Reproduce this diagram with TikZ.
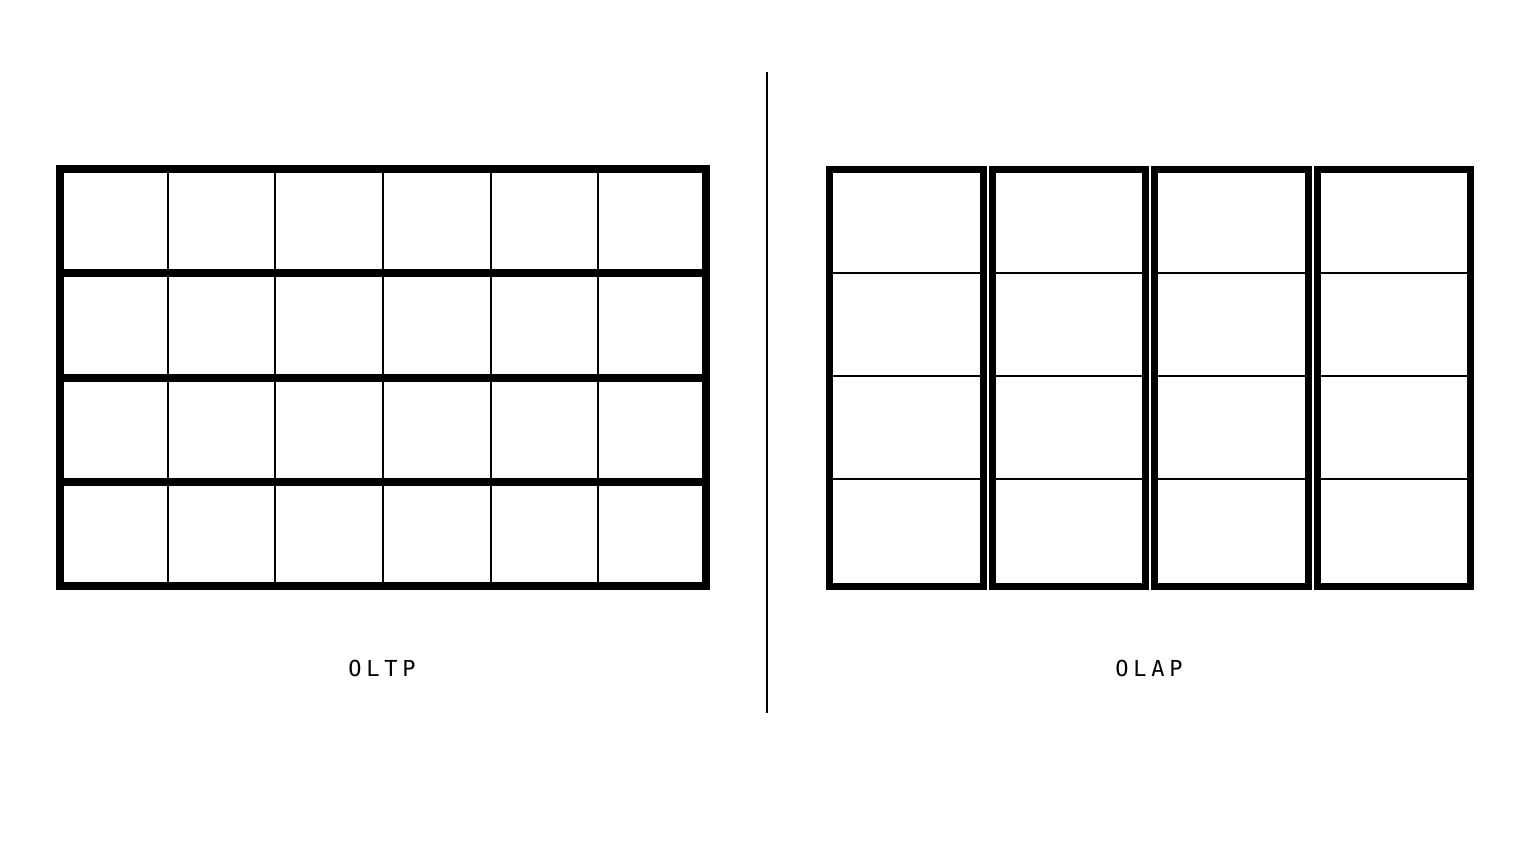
\documentclass[tikz,border=0pt]{standalone}
\usepackage{fontspec}
\newfontfamily\lblfont[LetterSpace=22]{DejaVu Sans Mono}
\begin{document}
\begin{tikzpicture}[x=1pt,y=-1pt,
  thickline/.style={line width=8pt,line join=miter,draw=black},
  thinline/.style={line width=2.2pt,draw=black},
  lbl/.style={font=\lblfont\fontsize{22}{26}\selectfont,inner sep=0pt,anchor=center}]
\useasboundingbox[fill=white] (0,0) rectangle (1536,864);
% OLTP grid
\foreach \x in {167.7,275.3,383,490.7,598.3}
  \draw[thinline] (\x,169) -- (\x,586);
\foreach \y in {273.25,377.5,481.75}
  \draw[thickline] (60,\y) -- (706,\y);
\draw[thickline] (60,169) rectangle (706,586);
% divider
\coordinate (dtop) at (767,72);
\coordinate (dbot) at (767,713);
\draw[line width=2pt] (dtop) -- (dbot);
% OLAP columns
\foreach \i in {0,1,2,3}{
  \pgfmathsetmacro{\xa}{829.5+162.5*\i}
  \pgfmathsetmacro{\xb}{\xa+153.5}
  \foreach \y in {273,376,479}
    \draw[thinline] (\xa,\y) -- (\xb,\y);
  \draw[line width=7pt,line join=miter] (\xa,169) rectangle (\xb,586);
}
\node[lbl] (oltp) at (382,668) {OLTP};
\node[lbl] (olap) at (1149,668) {OLAP};
\end{tikzpicture}
\end{document}
